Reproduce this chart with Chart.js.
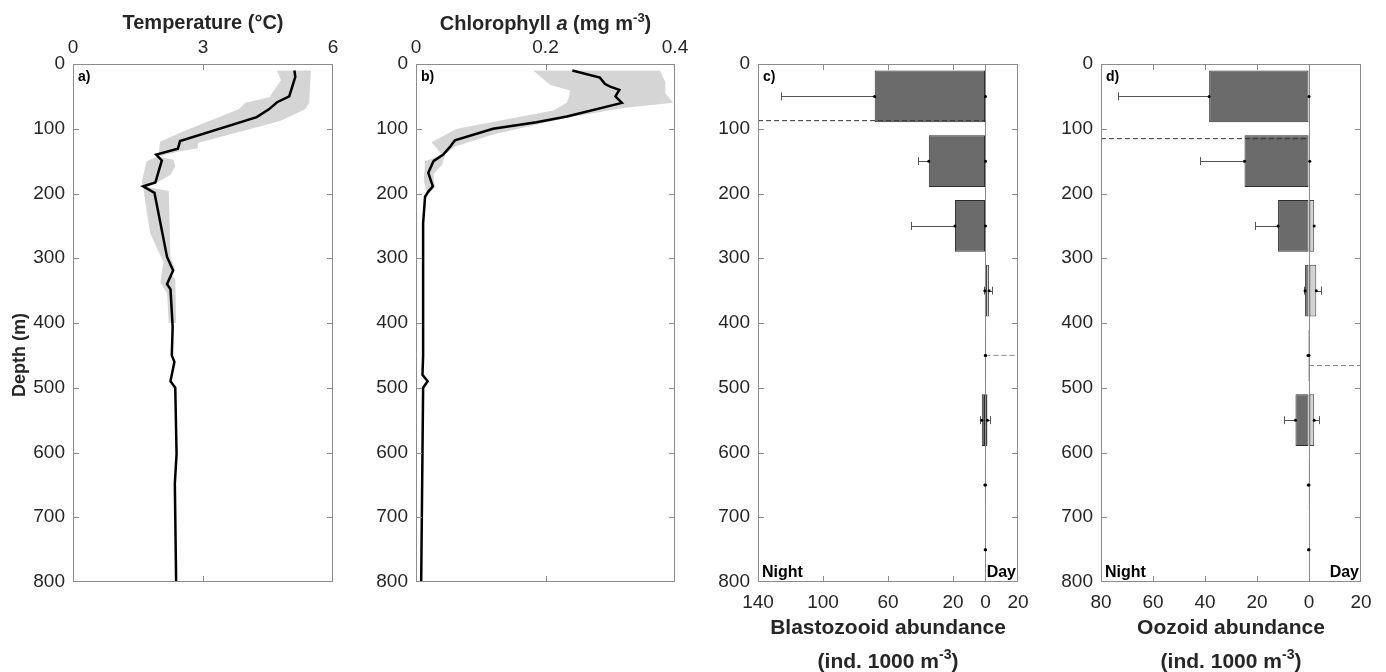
<!DOCTYPE html>
<html><head><meta charset="utf-8">
<script src="https://cdn.jsdelivr.net/npm/chart.js@4.4.1/dist/chart.umd.min.js"></script>
<style>
html,body{margin:0;padding:0;background:#fff;width:1386px;height:672px;overflow:hidden;position:relative}
canvas{position:absolute;top:0}
</style></head><body>
<canvas id="ca" width="350" height="672" style="left:0px;width:350px;height:672px"></canvas>
<canvas id="cb" width="350" height="672" style="left:350px;width:350px;height:672px"></canvas>
<canvas id="cc" width="343" height="700" style="left:700px;width:343px;height:700px"></canvas>
<canvas id="cd" width="343" height="700" style="left:1043px;width:343px;height:700px"></canvas>
<script>
// ---------------- data ----------------
const depthTicks = [0,100,200,300,400,500,600,700,800];
const tempTicks = [0,3,6];
const chlTicks = [0,0.2,0.4];
const blastoTicks = [-140,-100,-60,-20,0,20];
const oozoidTicks = [-80,-60,-40,-20,0,20];

// Temperature profile (mean) and +/- SD envelope
const tempDepth = [10,20,50,59,70,82,119,131,140,149,183,189,199,298,319,340,348,406,450,460,490,500,602,648,800];
const tempMean  = [5.11,5.13,4.99,4.71,4.52,4.24,2.47,2.42,1.92,2.05,1.90,1.62,1.88,2.17,2.31,2.17,2.25,2.30,2.28,2.34,2.25,2.36,2.39,2.35,2.38];
const tempLoDepth = [10,25,45,51,60,70,104,120,137,143,150,158,181,194,214,261,307,320,338,354,400];
const tempLo      = [4.71,4.80,4.59,4.55,3.98,3.82,2.55,2.01,1.98,1.94,1.70,1.67,1.59,1.63,1.67,1.78,2.09,2.05,2.02,2.17,2.21];
const tempHiDepth = [10,60,70,88,122,130,135,143,148,158,171,181,190,196,300,318,325,332,400];
const tempHi      = [5.49,5.45,5.36,4.78,2.88,2.88,2.45,1.94,2.32,2.36,2.25,2.00,1.72,2.21,2.25,2.36,2.25,2.36,2.38];

// Chlorophyll a profile (mean) and +/- SD envelope
const chlDepth = [10,21,31,35,40,50,60,81,90,100,118,128,140,150,168,189,197,205,246,450,480,490,500,600,800];
const chlMean  = [0.2415,0.284,0.292,0.300,0.314,0.308,0.318,0.233,0.186,0.119,0.060,0.0525,0.042,0.027,0.019,0.026,0.019,0.014,0.011,0.011,0.010,0.018,0.011,0.010,0.008];
const chlLoDepth = [10,32,41,51,60,72,100,121,140,150,180,196];
const chlLo      = [0.181,0.207,0.238,0.236,0.233,0.212,0.063,0.024,0.040,0.014,0.012,0.016];
const chlHiDepth = [10,28,45,60,68,83,109,128,140,156,170,190,200];
const chlHi      = [0.377,0.385,0.385,0.397,0.320,0.233,0.119,0.058,0.045,0.040,0.027,0.029,0.020];

// Abundance (ind. 1000 m-3) per 100 m depth bin
const binDepth = [50,150,250,350,450,550,650,750];
const blastoNight   = [68.2,34.9,18.8,0.4,0.1,2.3,0.4,0.2];
const blastoNightSd = [57.8,6.4,27.1,0.7,0,1.2,0,0];
const blastoDay     = [0,0,0,2.2,0,1.2,0,0];
const blastoDaySd   = [0,0,0,1.5,0,1.5,0,0];
const blastoWmdNight = 87.5;
const blastoWmdDay   = 450;
const oozoidNight   = [38.4,24.8,11.9,1.5,0.4,5.2,0.3,0.2];
const oozoidNightSd = [35.2,17.0,8.8,0.5,0,4.3,0,0];
const oozoidDay     = [0,0.3,2.0,2.8,0,2.0,0,0];
const oozoidDaySd   = [0,0,0,1.8,0,2.0,0,0];
const oozoidWmdNight = 115.3;
const oozoidWmdDay   = 465.6;

// ---------------- style ----------------
const FONT = "'Liberation Sans', Arial, Helvetica, sans-serif";
const TXT = '#262626';
const FRAME = '#8c8c8c';
const SHADE = '#d5d5d5';
const NIGHT_FILL = '#6b6b6b';
const DAY_FILL = '#d2d2d2';
Chart.defaults.font.family = FONT;
Chart.defaults.color = TXT;

// ---------------- plugins ----------------
const framePlugin = {
  id: 'frame',
  afterDatasetsDraw(chart, args, opts) {
    const {ctx, chartArea: a} = chart;
    const xs = chart.scales.x, ys = chart.scales.y;
    ctx.save();
    ctx.strokeStyle = FRAME; ctx.lineWidth = 1;
    ctx.strokeRect(a.left + 0.5, a.top + 0.5, a.right - a.left - 1, a.bottom - a.top - 1);
    const L = 6;
    ctx.beginPath();
    xs.ticks.forEach(t => {
      const px = Math.round(xs.getPixelForValue(t.value)) + 0.5;
      if (px <= a.left + 2 || px >= a.right - 2 || t.value === 0 && opts.zeroLine) return;
      ctx.moveTo(px, a.top); ctx.lineTo(px, a.top + L);
      ctx.moveTo(px, a.bottom); ctx.lineTo(px, a.bottom - L);
    });
    ys.ticks.forEach(t => {
      const py = Math.round(ys.getPixelForValue(t.value)) + 0.5;
      if (py <= a.top + 2 || py >= a.bottom - 2) return;
      ctx.moveTo(a.left, py); ctx.lineTo(a.left + L, py);
      ctx.moveTo(a.right, py); ctx.lineTo(a.right - L, py);
    });
    ctx.stroke();
    ctx.fillStyle = '#000';
    ctx.textBaseline = 'alphabetic';
    (opts.texts || []).forEach(t => {
      ctx.font = t.font;
      if (t.at === 'topleft') { ctx.textAlign = 'left'; ctx.fillText(t.text, a.left + 5, a.top + 17); }
      if (t.at === 'bottomleft') { ctx.textAlign = 'left'; ctx.fillText(t.text, a.left + 4, a.bottom - 5); }
      if (t.at === 'bottomright') { ctx.textAlign = 'right'; ctx.fillText(t.text, a.right - 2, a.bottom - 5); }
    });
    ctx.restore();
  }
};

const richTitlePlugin = {
  id: 'richTitle',
  afterDraw(chart, args, opts) {
    const {ctx, chartArea: a} = chart;
    (opts.items || []).forEach(it => {
      ctx.save();
      ctx.fillStyle = TXT; ctx.textBaseline = 'alphabetic'; ctx.textAlign = 'left';
      let total = 0;
      const segs = it.segs.map(s => { ctx.font = s.font; const w = ctx.measureText(s.text).width; total += w; return {text: s.text, font: s.font, dy: s.dy || 0, w}; });
      if (it.vertical) {
        // rotated axis title, centred at (it.x, it.yc)
        ctx.translate(it.x, it.yc);
        ctx.rotate(-Math.PI / 2);
        ctx.textBaseline = 'middle';
        let x = -total / 2;
        segs.forEach(s => { ctx.font = s.font; ctx.fillText(s.text, x, s.dy); x += s.w; });
      } else {
        let x = (a.left + a.right) / 2 - total / 2;
        segs.forEach(s => { ctx.font = s.font; ctx.fillText(s.text, x, it.y + s.dy); x += s.w; });
      }
      ctx.restore();
    });
  }
};

const errorBarPlugin = {
  id: 'errorBars',
  afterDatasetsDraw(chart, args, opts) {
    const {ctx} = chart; const xs = chart.scales.x;
    (opts.sets || []).forEach(set => {
      const meta = chart.getDatasetMeta(set.dataset);
      meta.data.forEach((bar, i) => {
        const y = bar.y, x0 = bar.x;
        const sd = set.sd[i];
        ctx.save();
        if (sd > 0) {
          const x1 = Math.round(xs.getPixelForValue(set.sign * (set.mean[i] + sd))) + 0.5;
          ctx.strokeStyle = '#555'; ctx.lineWidth = 1;
          ctx.beginPath();
          ctx.moveTo(x0, Math.round(y) + 0.5); ctx.lineTo(x1, Math.round(y) + 0.5);
          ctx.moveTo(x1, y - 4); ctx.lineTo(x1, y + 4);
          ctx.stroke();
        }
        ctx.fillStyle = '#000';
        ctx.beginPath(); ctx.arc(x0, y, 1.5, 0, Math.PI * 2); ctx.fill();
        ctx.restore();
      });
    });
  }
};

// ---------------- helpers ----------------
const pts = (xs, ys) => xs.map((v, i) => ({x: v, y: ys[i]}));
const envelope = (loD, lo, hiD, hi) => pts(lo, loD).concat(pts(hi, hiD).reverse());
const fixTicks = arr => scale => { scale.ticks = arr.map(v => ({value: v})); };
const fixSize = (w, h) => scale => { if (w !== null) scale.width = w; if (h !== null) scale.height = h; };

const tickFont = {size: 19, family: FONT};
const titleFont = {size: 20, weight: 'bold', family: FONT};

function depthAxis(width) {
  return {
    type: 'linear', reverse: true, min: 0, max: 800, offset: false,
    afterBuildTicks: fixTicks(depthTicks),
    afterFit: fixSize(width, null),
    grid: {display: false, drawTicks: false, offset: false},
    border: {display: false},
    ticks: {font: tickFont, color: TXT, padding: 8},
    title: {display: false}
  };
}

function profileChart(id, mean, env, xmin, xmax, xticks, xTitle, yWidth, padRight, label, rich) {
  return new Chart(document.getElementById(id), {
    type: 'scatter',
    data: {datasets: [
      {data: mean, showLine: true, borderColor: '#000', borderWidth: 2.5, pointRadius: 0, tension: 0, order: 0, fill: false},
      {data: env, showLine: true, borderColor: 'rgba(0,0,0,0)', borderWidth: 0, backgroundColor: SHADE, pointRadius: 0, tension: 0, order: 1, fill: 'shape'}
    ]},
    options: {
      responsive: false, animation: false, events: [],
      layout: {padding: {left: 0, right: padRight, top: 0, bottom: 90}},
      scales: {
        x: {
          type: 'linear', position: 'top', min: xmin, max: xmax,
          afterBuildTicks: fixTicks(xticks),
          afterFit: fixSize(null, 64),
          grid: {display: false, drawTicks: false}, border: {display: false},
          ticks: {font: tickFont, color: TXT, padding: 5},
          title: xTitle ? {display: true, text: xTitle, font: titleFont, color: TXT, padding: {top: 11, bottom: 0}} : {display: false}
        },
        y: depthAxis(yWidth)
      },
      plugins: {
        legend: {display: false}, tooltip: {enabled: false},
        frame: {texts: [{text: label, font: 'bold 14px ' + FONT, at: 'topleft'}]},
        richTitle: {items: rich || []}
      }
    },
    plugins: [framePlugin, richTitlePlugin]
  });
}

function abundanceChart(id, night, nightSd, day, daySd, wmdN, wmdD, xmin, xticks, title, label) {
  const xmax = 20;
  return new Chart(document.getElementById(id), {
    type: 'bar',
    data: {datasets: [
      {type: 'bar', data: pts(night.map(v => -v), binDepth), backgroundColor: NIGHT_FILL, borderColor: '#2e2e2e', borderWidth: 1, borderSkipped: false, grouped: false, barPercentage: 1, categoryPercentage: 0.8, order: 2},
      {type: 'bar', data: pts(day, binDepth), backgroundColor: DAY_FILL, borderColor: '#444', borderWidth: 1, borderSkipped: false, grouped: false, barPercentage: 1, categoryPercentage: 0.8, order: 3},
      {type: 'scatter', data: [{x: xmin, y: wmdN}, {x: 0, y: wmdN}], showLine: true, borderColor: '#333', borderWidth: 1, borderDash: [5, 3], pointRadius: 0, order: 1},
      {type: 'scatter', data: [{x: 0, y: wmdD}, {x: xmax, y: wmdD}], showLine: true, borderColor: '#8a8a8a', borderWidth: 1, borderDash: [5, 3], pointRadius: 0, order: 1}
    ]},
    options: {
      indexAxis: 'y',
      responsive: false, animation: false, events: [],
      layout: {padding: {left: 0, right: 25, top: 64, bottom: 0}},
      scales: {
        x: {
          type: 'linear', position: 'bottom', min: xmin, max: xmax,
          afterBuildTicks: fixTicks(xticks),
          afterFit: fixSize(null, 118),
          grid: {drawTicks: false, color: c => (c.tick && c.tick.value === 0) ? FRAME : 'rgba(0,0,0,0)'},
          border: {display: false},
          ticks: {font: tickFont, color: TXT, padding: 9, callback: v => String(Math.abs(v))},
          title: {display: true, text: title, font: {size: 21, weight: 'bold', family: FONT}, color: TXT, padding: {top: 0, bottom: 59}}
        },
        y: depthAxis(58)
      },
      plugins: {
        legend: {display: false}, tooltip: {enabled: false},
        frame: {zeroLine: true, texts: [
          {text: label, font: 'bold 14px ' + FONT, at: 'topleft'},
          {text: 'Night', font: 'bold 16px ' + FONT, at: 'bottomleft'},
          {text: 'Day', font: 'bold 16px ' + FONT, at: 'bottomright'}
        ]},
        errorBars: {sets: [
          {dataset: 0, mean: night, sd: nightSd, sign: -1},
          {dataset: 1, mean: day, sd: daySd, sign: 1}
        ]},
        richTitle: {items: [{y: 668, segs: [
          {text: '(ind. 1000 m', font: 'bold 21px ' + FONT},
          {text: '-3', font: 'bold 14px ' + FONT, dy: -9},
          {text: ')', font: 'bold 21px ' + FONT}
        ]}]}
      }
    },
    plugins: [framePlugin, errorBarPlugin, richTitlePlugin]
  });
}

// ---------------- charts ----------------
profileChart('ca', pts(tempMean, tempDepth), envelope(tempLoDepth, tempLo, tempHiDepth, tempHi),
  0, 6, tempTicks, 'Temperature (\u00B0C)', 73, 17, 'a)',
  [{vertical: true, x: 20, yc: 355, segs: [{text: 'Depth (m)', font: 'bold 18px ' + FONT}]}]);

profileChart('cb', pts(chlMean, chlDepth), envelope(chlLoDepth, chlLo, chlHiDepth, chlHi),
  0, 0.4, chlTicks, null, 66, 25, 'b)', [{y: 30, segs: [
    {text: 'Chlorophyll ', font: 'bold 20px ' + FONT},
    {text: 'a', font: 'italic bold 20px ' + FONT},
    {text: ' (mg m', font: 'bold 20px ' + FONT},
    {text: '-3', font: 'bold 13px ' + FONT, dy: -8},
    {text: ')', font: 'bold 20px ' + FONT}
  ]}]);

abundanceChart('cc', blastoNight, blastoNightSd, blastoDay, blastoDaySd, blastoWmdNight, blastoWmdDay,
  -140, blastoTicks, 'Blastozooid abundance', 'c)');

abundanceChart('cd', oozoidNight, oozoidNightSd, oozoidDay, oozoidDaySd, oozoidWmdNight, oozoidWmdDay,
  -80, oozoidTicks, 'Oozoid abundance', 'd)');
</script>
</body></html>
